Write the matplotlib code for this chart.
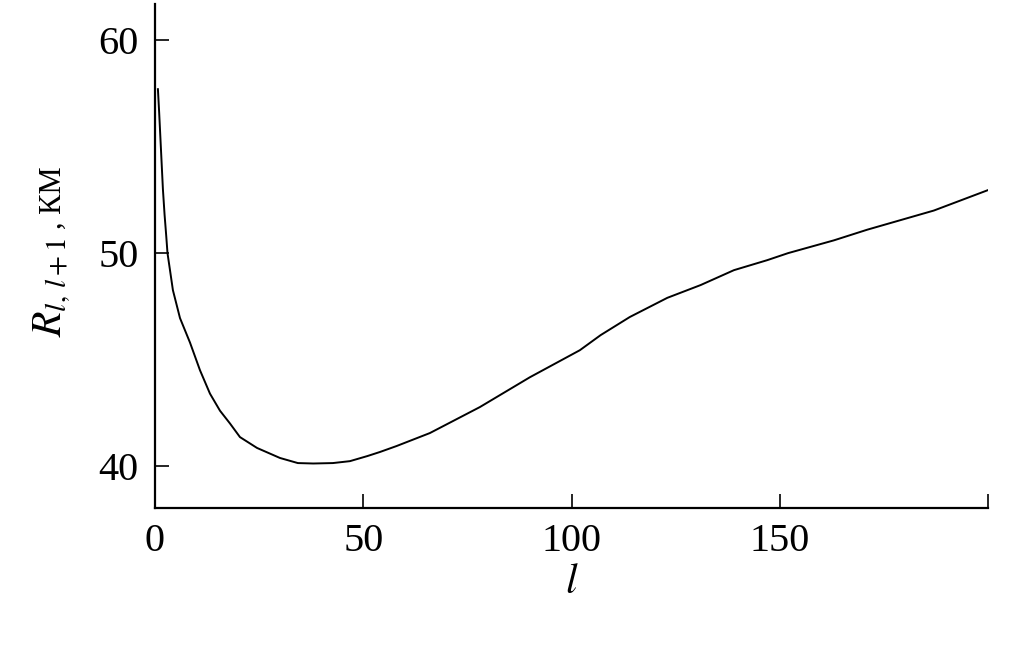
import numpy as np
import matplotlib
matplotlib.use("Agg")
import matplotlib.pyplot as plt

plt.rcParams['font.family'] = ['Liberation Serif', 'DejaVu Serif']
plt.rcParams['mathtext.fontset'] = 'stix'

# curve
l_vals = [0.7, 1.0, 1.5, 1.9, 2.3, 2.7, 3.0, 3.6, 4.3, 6, 8.4, 10.8, 13.2, 15.6,
          18, 20.4, 24.5, 30, 34.3, 38, 42.7, 46.8, 51, 54, 58, 66, 78, 90,
          102, 107, 114, 123, 131, 139, 147, 152, 163, 171, 179, 187, 200]
r_vals = [57.7, 56.6, 54.6, 53.0, 51.8, 50.8, 50.0, 49.2, 48.26, 46.95, 45.8, 44.5,
          43.4, 42.6, 42.0, 41.36, 40.85, 40.38, 40.14, 40.12, 40.14, 40.23, 40.47,
          40.66, 40.94, 41.55, 42.77, 44.17, 45.44, 46.15, 47.0, 47.9, 48.5, 49.2,
          49.67, 50.0, 50.6, 51.1, 51.55, 52.0, 52.96]

x_ticks = [0, 50, 100, 150, 200]
x_ticklabels = ['0', '50', '100', '150', '']
y_ticks = [40, 50, 60]
y_ticklabels = ['40', '50', '60']

W, H = 1009, 645
fig = plt.figure(figsize=(W / 100, H / 100), dpi=100)
ax = fig.add_axes([155 / W, 1 - 508 / H, (988 - 155) / W, (508 - 4) / H])

ax.plot(l_vals, r_vals, color='black', lw=1.4)

ax.set_xlim(0, 200)
ax.set_ylim(38.03, 61.7)
ax.spines['top'].set_visible(False)
ax.spines['right'].set_visible(False)
for s in ['left', 'bottom']:
    ax.spines[s].set_linewidth(1.6)

ax.set_xticks(x_ticks)
ax.set_xticklabels(x_ticklabels)
ax.set_yticks(y_ticks)
ax.set_yticklabels(y_ticklabels)
ax.tick_params(direction='in', length=10, width=1.2, labelsize=29)
ax.tick_params(axis='x', pad=11)
ax.tick_params(axis='y', pad=12)

ax.set_xlabel('$l$', fontsize=30, labelpad=2)

# y label: R part in math, units smaller
fig.text(61 / W, 1 - 337 / H, r'$R_{l,\,l+1}$', fontsize=30, rotation=90,
         rotation_mode='anchor', ha='left', va='baseline')
fig.text(61 / W, 1 - 229 / H, ', КМ', fontsize=22, rotation=90,
         rotation_mode='anchor', ha='left', va='baseline')

fig.savefig('out.png', dpi=100)
